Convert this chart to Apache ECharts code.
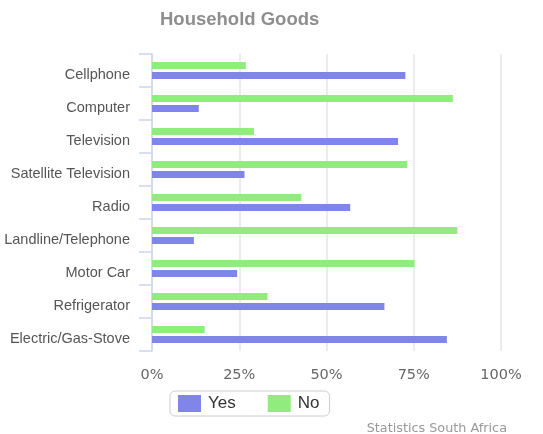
<!DOCTYPE html>
<html><head><meta charset="utf-8">
<script src="https://cdn.jsdelivr.net/npm/echarts@6/dist/echarts.min.js"></script>
<style>html,body{margin:0;padding:0;background:#fff}#c{width:543px;height:434px}</style>
</head><body><div id="c"></div>
<script>
const categories = ['Cellphone','Computer','Television','Satellite Television','Radio','Landline/Telephone','Motor Car','Refrigerator','Electric/Gas-Stove'];
const yesValues = [72.6, 13.4, 70.5, 26.5, 56.8, 12.0, 24.4, 66.6, 84.5];
const noValues  = [26.9, 86.2, 29.2, 73.1, 42.8, 87.5, 75.2, 33.1, 15.1];
const xTicks = [0, 25, 50, 75, 100];

const chart = echarts.init(document.getElementById('c'));
chart.setOption({
  animation: false,
  title: [
    {text: 'Household Goods', left: 155, top: 5, textStyle: {fontFamily: 'Liberation Sans', fontSize: 18.5, fontWeight: 'bold', color: '#8e8e8e'}},
    {text: 'Statistics South Africa', right: 31, top: 417, textStyle: {fontFamily: 'DejaVu Sans', fontSize: 12.8, fontWeight: 'normal', color: '#999'}}
  ],
  legend: {
    data: ['Yes','No'], left: 170, top: 391, icon: 'rect', itemWidth: 23, itemHeight: 17, itemGap: 32,
    padding: [4, 10, 4, 8], borderColor: '#ccc', borderWidth: 1, borderRadius: 5,
    textStyle: {fontFamily: 'Liberation Sans', fontSize: 17, color: '#333', padding: [0, 0, 0, 2]}
  },
  grid: {left: 152, right: 42, top: 54, bottom: 83, containLabel: false},
  xAxis: {
    type: 'value', min: xTicks[0], max: xTicks[xTicks.length-1], interval: 25,
    axisLine: {show: false}, axisTick: {show: false},
    axisLabel: {formatter: '{value}%', fontFamily: 'DejaVu Sans', fontSize: 14.5, color: '#666', margin: 17},
    splitLine: {show: true, lineStyle: {color: '#e6e6e6', width: 1.5}}
  },
  yAxis: {
    type: 'category', data: categories, inverse: true,
    axisLine: {show: true, lineStyle: {color: '#ccd6eb', width: 1.5}},
    axisTick: {show: true, length: 13, lineStyle: {color: '#ccd6eb', width: 1.5}},
    axisLabel: {fontFamily: 'Liberation Sans', fontSize: 14.5, color: '#555', margin: 22, verticalAlign: 'top', lineHeight: 8}
  },
  series: [
    {name: 'No', type: 'bar', data: noValues, barWidth: 7, barGap: '43%', itemStyle: {color: '#90ed7d'}},
    {name: 'Yes', type: 'bar', data: yesValues, barWidth: 7, itemStyle: {color: '#8085e9'}}
  ]
});
</script></body></html>
